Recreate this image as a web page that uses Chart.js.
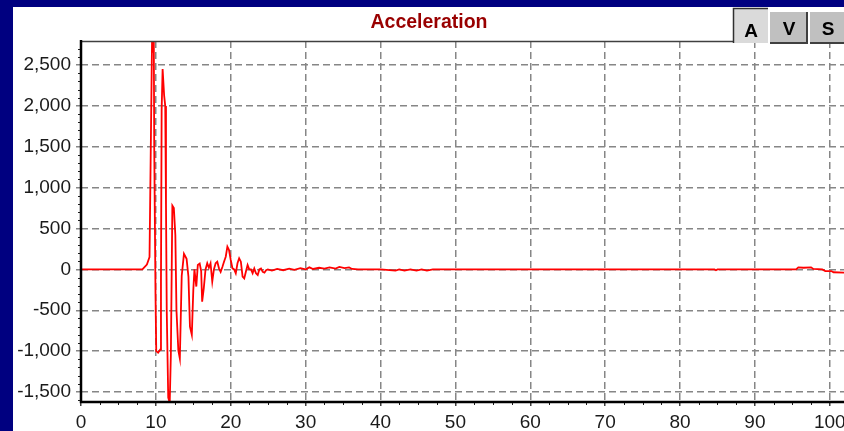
<!DOCTYPE html>
<html><head><meta charset="utf-8">
<script src="https://cdn.jsdelivr.net/npm/chart.js@4/dist/chart.umd.min.js"></script>
<style>html,body{margin:0;padding:0;background:#000080;overflow:hidden}#wrap{width:844px;height:431px}</style>
</head><body><div id="wrap"><canvas id="c" width="844" height="431"></canvas></div>
<script>
const titleText = 'Acceleration';
const buttonLabels = ['A', 'V', 'S'];
const xTickValues = [0, 10, 20, 30, 40, 50, 60, 70, 80, 90, 100];
const yTickValues = [-1500, -1000, -500, 0, 500, 1000, 1500, 2000, 2500];
const timeValues = [
  0, 3, 8.2, 8.8, 9.15, 9.3, 9.5, 9.6, 9.72, 9.78, 9.95, 10.05, 10.3, 10.6, 10.68, 10.77, 10.9, 11.1, 11.25, 11.35,
  11.45, 11.65, 11.85, 12.0, 12.2, 12.4, 12.6, 12.75, 13.0, 13.2, 13.45, 13.75, 14.1, 14.35, 14.55, 14.8, 15.0, 15.15, 15.4, 15.6,
  15.85, 16.05, 16.18, 16.4, 16.63, 16.86, 17.08, 17.3, 17.53, 17.75, 17.98, 18.2, 18.43, 18.65, 18.88, 19.1, 19.33, 19.55, 19.77, 20.0,
  20.23, 20.45, 20.67, 20.9, 21.12, 21.35, 21.58, 21.8, 22.02, 22.25, 22.47, 22.7, 22.92, 23.14, 23.37, 23.6, 23.82, 24.04, 24.27, 24.5,
  24.72, 24.95, 25.5, 26.2, 27.0, 27.8, 28.5, 29.3, 30.0, 30.5, 31.0, 31.8, 32.5, 33.2, 34.0, 34.5, 35.2, 35.8, 36.2, 37.0,
  40.0, 42.0, 42.5, 43.2, 44.0, 44.8, 45.5, 46.2, 47.0, 60.0, 84.6, 84.8, 85.0, 95.5, 95.8, 96.5, 97.5, 97.8, 99.0, 99.4,
  100.2, 100.5, 102.0
];
const accelValues = [
  0, 0, 0, 60, 150, 1320, 2900, 2650, 2900, 1500, -300, -1000, -1020, -980, -150, 1950, 2450, 2130, 2000, 800,
  -500, -1570, -1630, -1050, 780, 750, 420, -500, -990, -1090, -80, 190, 130, -90, -700, -800, -250, 0, -210, 53,
  70, -20, -395, -228, 0, 75, 20, 75, -150, 0, 75, 94, 13, -30, 30, 94, 155, 278, 237, 115,
  13, 0, -48, 75, 136, 94, -89, -110, -30, 53, 0, 0, -48, 12, -48, -69, 0, 12, -30, -40,
  -10, 0, -15, 5, -10, 10, -5, 15, 0, 25, 5, 20, 10, 25, 10, 30, 15, 25, 5, 0,
  0, -15, 0, -15, 0, -15, 0, -15, 0, 0, 0, -10, 0, 0, 25, 20, 25, 5, 0, -20,
  -20, -35, -40
];

const FONT = '"Liberation Sans", Arial, sans-serif';

const frame = {
  id: 'frame',
  beforeDraw(chart) {
    const ctx = chart.ctx;
    ctx.save();
    ctx.fillStyle = '#000080';
    ctx.fillRect(0, 0, chart.width, chart.height);
    ctx.fillStyle = '#ffffff';
    ctx.fillRect(13, 7, chart.width - 13, chart.height - 7);
    ctx.restore();
  },
  afterDraw(chart) {
    const ctx = chart.ctx;
    const a = chart.chartArea;
    const xs = chart.scales.x, ys = chart.scales.y;
    ctx.save();
    // title
    ctx.fillStyle = '#990000';
    ctx.font = 'bold 19.5px ' + FONT;
    ctx.textAlign = 'center';
    ctx.textBaseline = 'alphabetic';
    ctx.fillText(titleText, 429, 27.5);
    // top border
    ctx.strokeStyle = '#404040';
    ctx.lineWidth = 1.5;
    ctx.beginPath(); ctx.moveTo(a.left, a.top + 0.5); ctx.lineTo(733, a.top + 0.5); ctx.stroke();
    // minor ticks y
    ctx.strokeStyle = '#202020';
    ctx.lineWidth = 1;
    for (let v = -1600; v <= 2700; v += 100) {
      if (v % 500 === 0) continue;
      const py = Math.round(ys.getPixelForValue(v)) + 0.5;
      ctx.beginPath(); ctx.moveTo(a.left - 3, py); ctx.lineTo(a.left, py); ctx.stroke();
    }
    // minor ticks x
    for (let v = 2.5; v <= 101; v += 2.5) {
      if (v % 10 === 0) continue;
      const px = Math.round(xs.getPixelForValue(v)) + 0.5;
      ctx.beginPath(); ctx.moveTo(px, a.bottom); ctx.lineTo(px, a.bottom + 4); ctx.stroke();
    }
    // axes
    ctx.strokeStyle = '#000000';
    ctx.lineWidth = 2.5;
    ctx.beginPath(); ctx.moveTo(a.left, a.top - 1); ctx.lineTo(a.left, a.bottom + 1); ctx.lineTo(a.right, a.bottom + 1); ctx.stroke();
    // buttons
    ctx.fillStyle = '#dadada';
    ctx.fillRect(733, 8, 35, 35);
    ctx.strokeStyle = '#303030'; ctx.lineWidth = 1.5;
    ctx.beginPath(); ctx.moveTo(733.5, 43); ctx.lineTo(733.5, 8.5); ctx.lineTo(768, 8.5); ctx.stroke();
    ctx.fillStyle = '#c0c0c0';
    ctx.fillRect(770, 12, 38, 32);
    ctx.fillRect(810, 12, 34, 32);
    ctx.strokeStyle = '#404040'; ctx.lineWidth = 2;
    ctx.beginPath(); ctx.moveTo(770, 43); ctx.lineTo(807, 43); ctx.lineTo(807, 12); ctx.stroke();
    ctx.beginPath(); ctx.moveTo(810, 43); ctx.lineTo(844, 43); ctx.stroke();
    ctx.fillStyle = '#000000';
    ctx.font = 'bold 19px ' + FONT;
    ctx.textAlign = 'center';
    ctx.textBaseline = 'alphabetic';
    ctx.fillText(buttonLabels[0], 751, 37);
    ctx.fillText(buttonLabels[1], 789, 35);
    ctx.fillText(buttonLabels[2], 828, 35);
    ctx.restore();
  }
};

new Chart(document.getElementById('c'), {
  type: 'line',
  data: {
    datasets: [{
      data: timeValues.map((t, i) => ({ x: t, y: accelValues[i] })),
      borderColor: '#ff0000',
      borderWidth: 1.8,
      pointRadius: 0,
      tension: 0,
      fill: false
    }]
  },
  options: {
    responsive: false,
    animation: false,
    devicePixelRatio: 1,
    layout: { padding: { top: 41, left: 0, right: 0, bottom: 0 } },
    plugins: { legend: { display: false }, title: { display: false }, tooltip: { enabled: false } },
    scales: {
      x: {
        type: 'linear', min: 0, max: 101.9,
        afterBuildTicks(s) { s.ticks = xTickValues.map(v => ({ value: v })); },
        afterFit(s) { s.height = 30; s.paddingLeft = 0; s.paddingRight = 0; },
        grid: { color: '#868686', lineWidth: 1.5, tickLength: 5, tickColor: '#404040', tickBorderDash: [] },
        border: { display: false, dash: [7, 4] },
        ticks: { color: '#1a1a1a', font: { family: FONT, size: 19 }, padding: 5, maxRotation: 0, autoSkip: false,
                 callback: v => String(v) }
      },
      y: {
        type: 'linear', min: -1610, max: 2794,
        afterBuildTicks(s) { s.ticks = yTickValues.map(v => ({ value: v })); },
        afterFit(s) { s.width = 81; s.paddingTop = 0; s.paddingBottom = 0; },
        grid: { color: '#868686', lineWidth: 1.5, tickLength: 5, tickColor: '#868686', tickBorderDash: [] },
        border: { display: false, dash: [7, 4] },
        ticks: { color: '#1a1a1a', font: { family: FONT, size: 19 }, padding: 5, autoSkip: false,
                 callback: v => v.toLocaleString('en-US') }
      }
    }
  },
  plugins: [frame]
});
</script>
</body></html>
